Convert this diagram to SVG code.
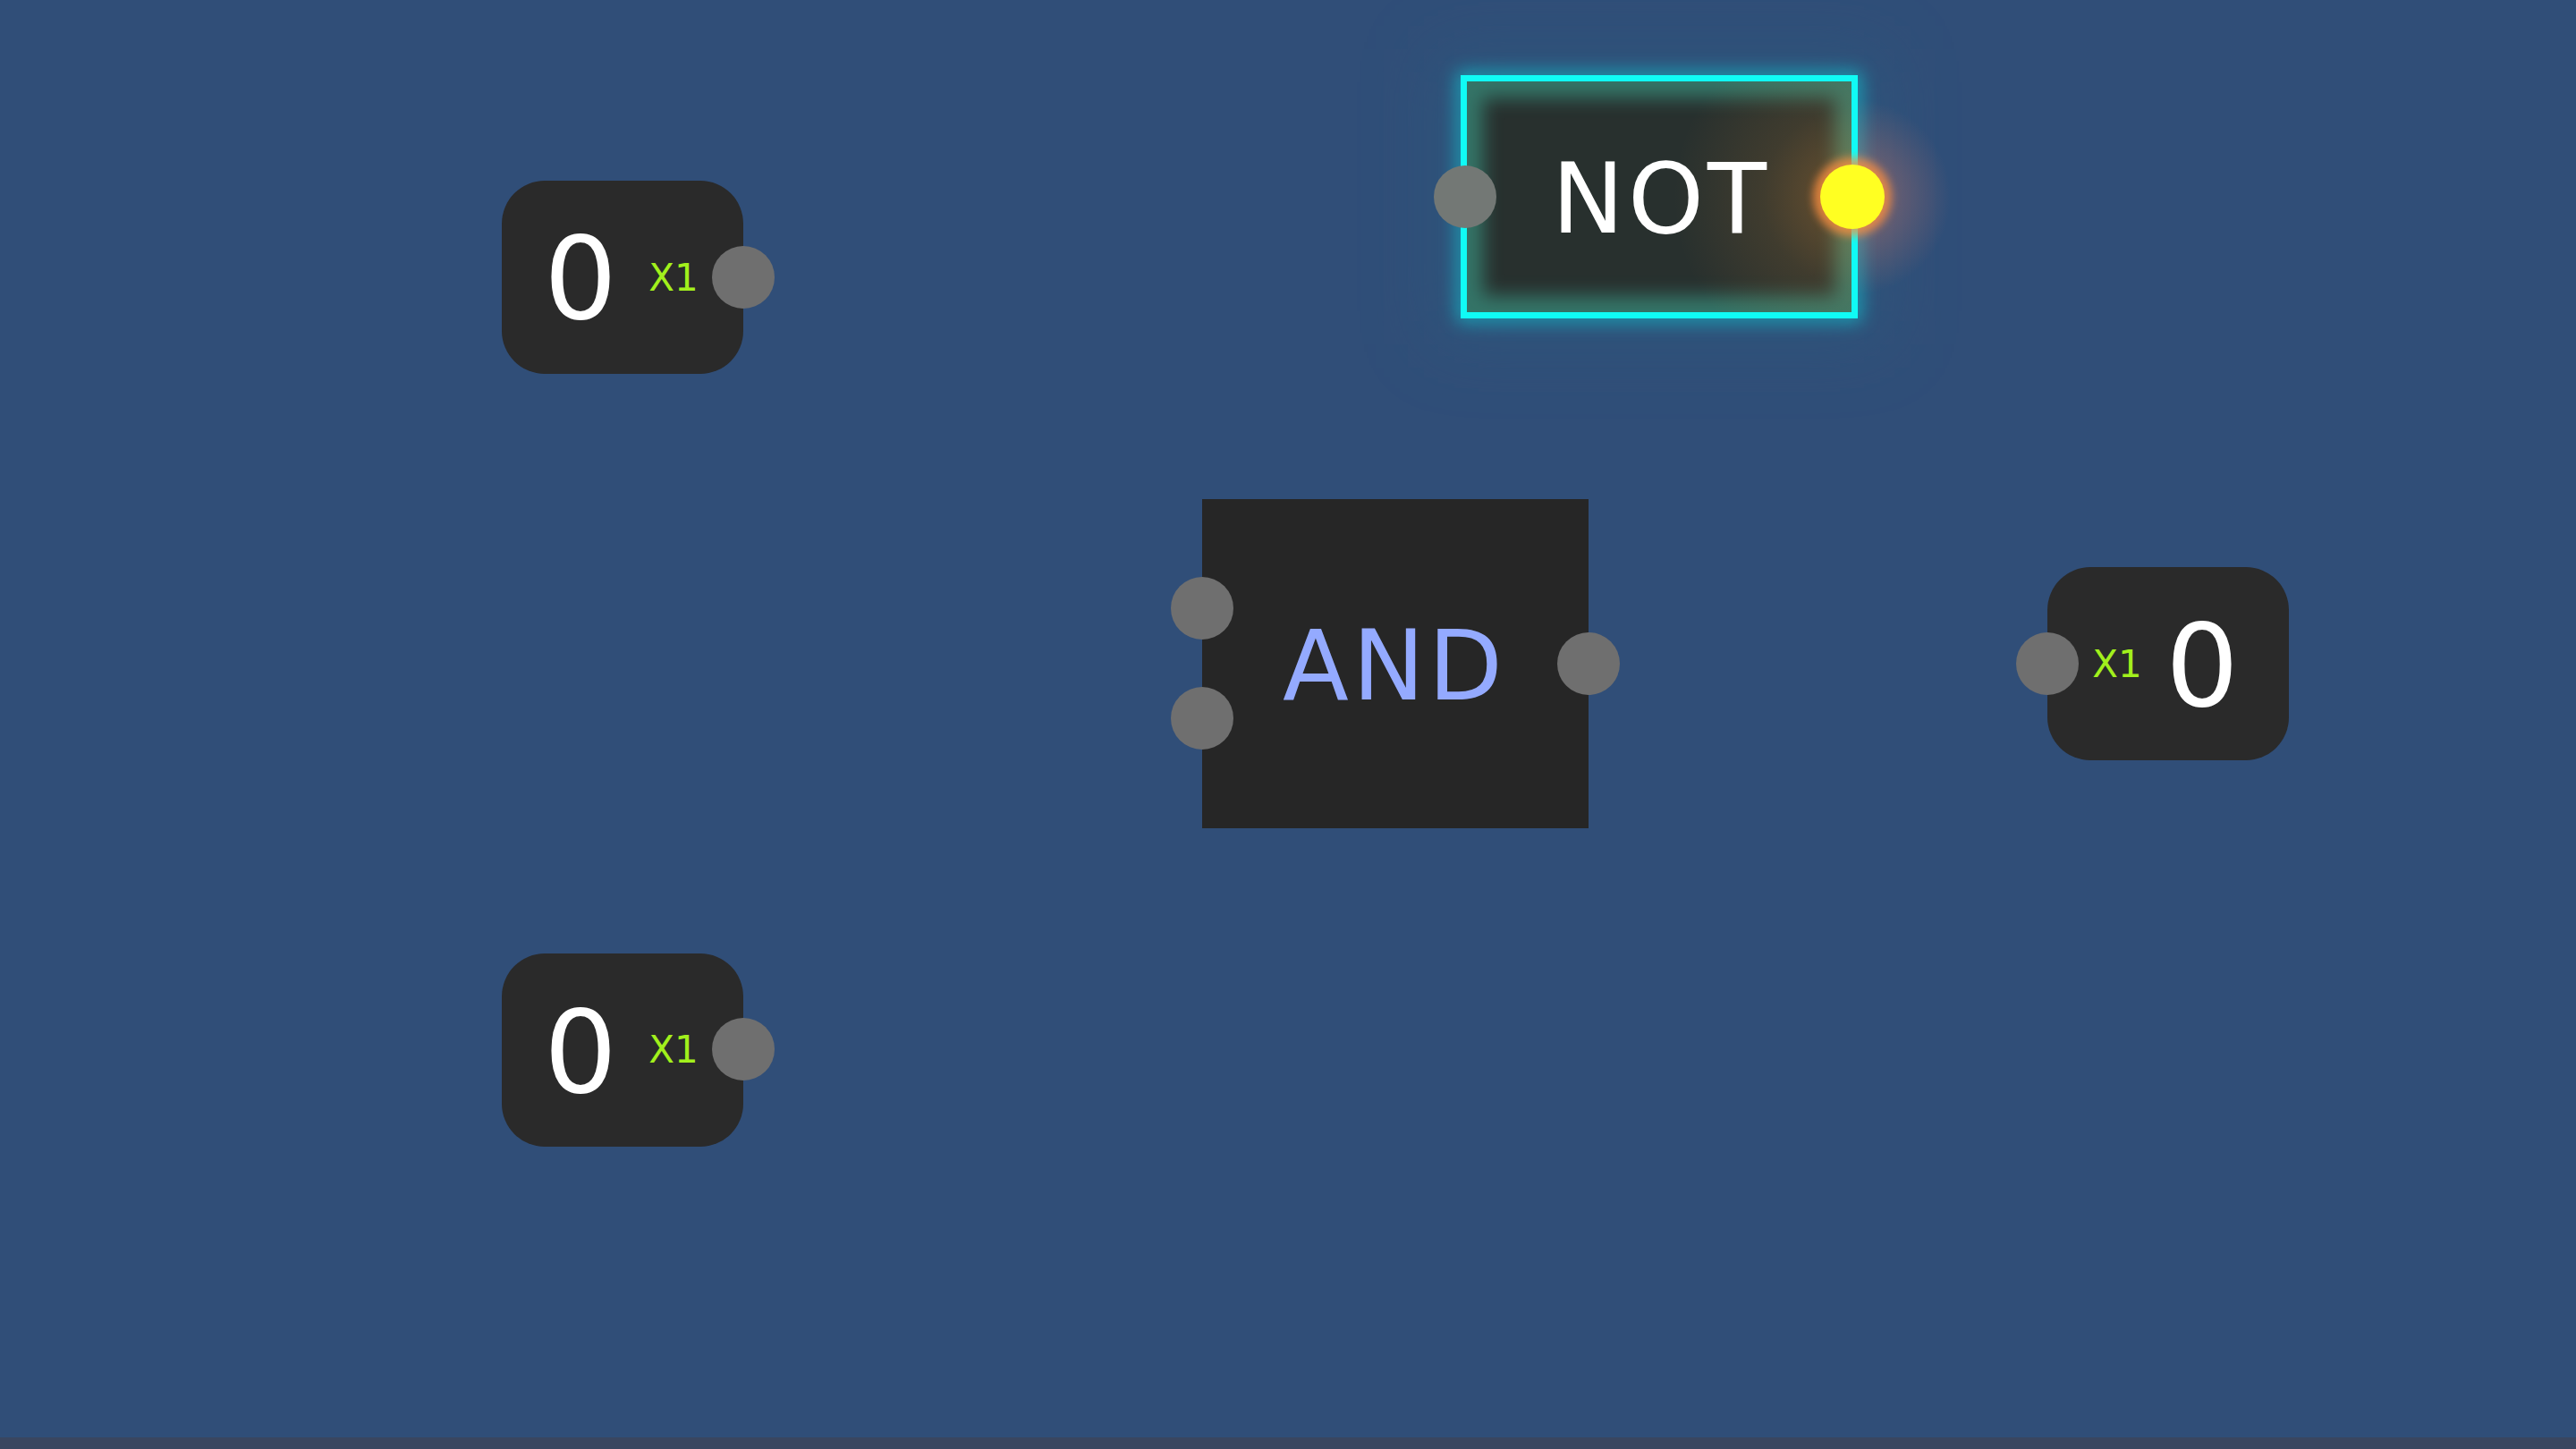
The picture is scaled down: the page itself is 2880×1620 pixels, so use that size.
<svg xmlns="http://www.w3.org/2000/svg" width="2880" height="1620" viewBox="0 0 2880 1620">
<defs>
<style>
.port{fill:#6f6f6f}
.num{fill:#2a2a2a}
.zero{font-family:"DejaVu Sans",sans-serif;font-size:129px;fill:#ffffff;text-anchor:middle}
.x1{font-family:"DejaVu Sans",sans-serif;font-size:42px;fill:#a2f01c;text-anchor:middle}
.gate{font-family:"DejaVu Sans",sans-serif;font-size:108px;text-anchor:middle;letter-spacing:4px}
</style>
<filter id="blurBig" x="-50%" y="-50%" width="200%" height="200%"><feGaussianBlur stdDeviation="40"/></filter>
<filter id="blurMid" x="-50%" y="-50%" width="200%" height="200%"><feGaussianBlur stdDeviation="10"/></filter>
<filter id="blurSm" x="-50%" y="-50%" width="200%" height="200%"><feGaussianBlur stdDeviation="5"/></filter>
<clipPath id="notClip"><rect x="1640" y="91" width="430" height="258"/></clipPath>
<radialGradient id="orangeGlow" cx="0.5" cy="0.5" r="0.5">
<stop offset="0" stop-color="#ff9a30" stop-opacity="0.6"/>
<stop offset="0.5" stop-color="#ff9a30" stop-opacity="0.2"/>
<stop offset="1" stop-color="#ff9a30" stop-opacity="0"/>
</radialGradient>
<radialGradient id="pinkGlow" cx="0.5" cy="0.5" r="0.5">
<stop offset="0" stop-color="#ff8060" stop-opacity="0.45"/>
<stop offset="1" stop-color="#ff8060" stop-opacity="0"/>
</radialGradient>
</defs>
<rect x="0" y="0" width="2880" height="1620" fill="#304e78"/>
<rect x="0" y="1607" width="2880" height="13" fill="#3a4660"/>
<g id="connectors"></g>
<g id="node-in1">
<rect class="num" x="561" y="202" width="270" height="216" rx="48"/>
<text class="zero" x="649" y="356">0</text>
<text class="x1" x="753" y="325">X1</text>
<circle class="port" cx="831" cy="310" r="35"/>
</g>
<g id="node-in2">
<rect class="num" x="561" y="1066" width="270" height="216" rx="48"/>
<text class="zero" x="649" y="1221">0</text>
<text class="x1" x="753" y="1188">X1</text>
<circle class="port" cx="831" cy="1173" r="35"/>
</g>
<g id="node-out">
<rect class="num" x="2289" y="634" width="270" height="216" rx="48"/>
<text class="zero" x="2462" y="789">0</text>
<text class="x1" x="2367" y="757">X1</text>
<circle class="port" cx="2289" cy="742" r="35"/>
</g>
<g id="node-and">
<rect x="1344" y="558" width="432" height="368" fill="#262626"/>
<text class="gate" x="1559" y="782" fill="#94aaff">AND</text>
<circle class="port" cx="1344" cy="680" r="35"/>
<circle class="port" cx="1344" cy="803" r="35"/>
<circle class="port" cx="1776" cy="742" r="35"/>
</g>
<g id="node-not">
<rect x="1600" y="55" width="510" height="330" fill="#2a6080" opacity="0.35" filter="url(#blurBig)"/>
<rect x="1636.5" y="87.5" width="437" height="265" fill="none" stroke="#00ffff" stroke-width="14" opacity="0.5" filter="url(#blurMid)"/>
<circle cx="2071" cy="220" r="110" fill="url(#pinkGlow)"/>
<rect x="1636.5" y="87.5" width="437" height="265" fill="#28302e"/>
<g clip-path="url(#notClip)">
<rect x="1636.5" y="87.5" width="437" height="265" fill="none" stroke="#3fb8a0" stroke-width="44" opacity="0.5" filter="url(#blurMid)"/>
<circle cx="2071" cy="220" r="200" fill="url(#orangeGlow)" opacity="0.55"/>
</g>
<rect x="1636.5" y="87.5" width="437" height="265" fill="none" stroke="#10fbf5" stroke-width="7"/>
<text class="gate" x="1857" y="260" fill="#ffffff">NOT</text>
<circle cx="1638" cy="220" r="35" fill="#737875"/>
<circle cx="2071" cy="220" r="44" fill="#ff9040" opacity="0.75" filter="url(#blurSm)"/>
<circle cx="2071" cy="220" r="36" fill="#ffff22"/>
</g>
</svg>
